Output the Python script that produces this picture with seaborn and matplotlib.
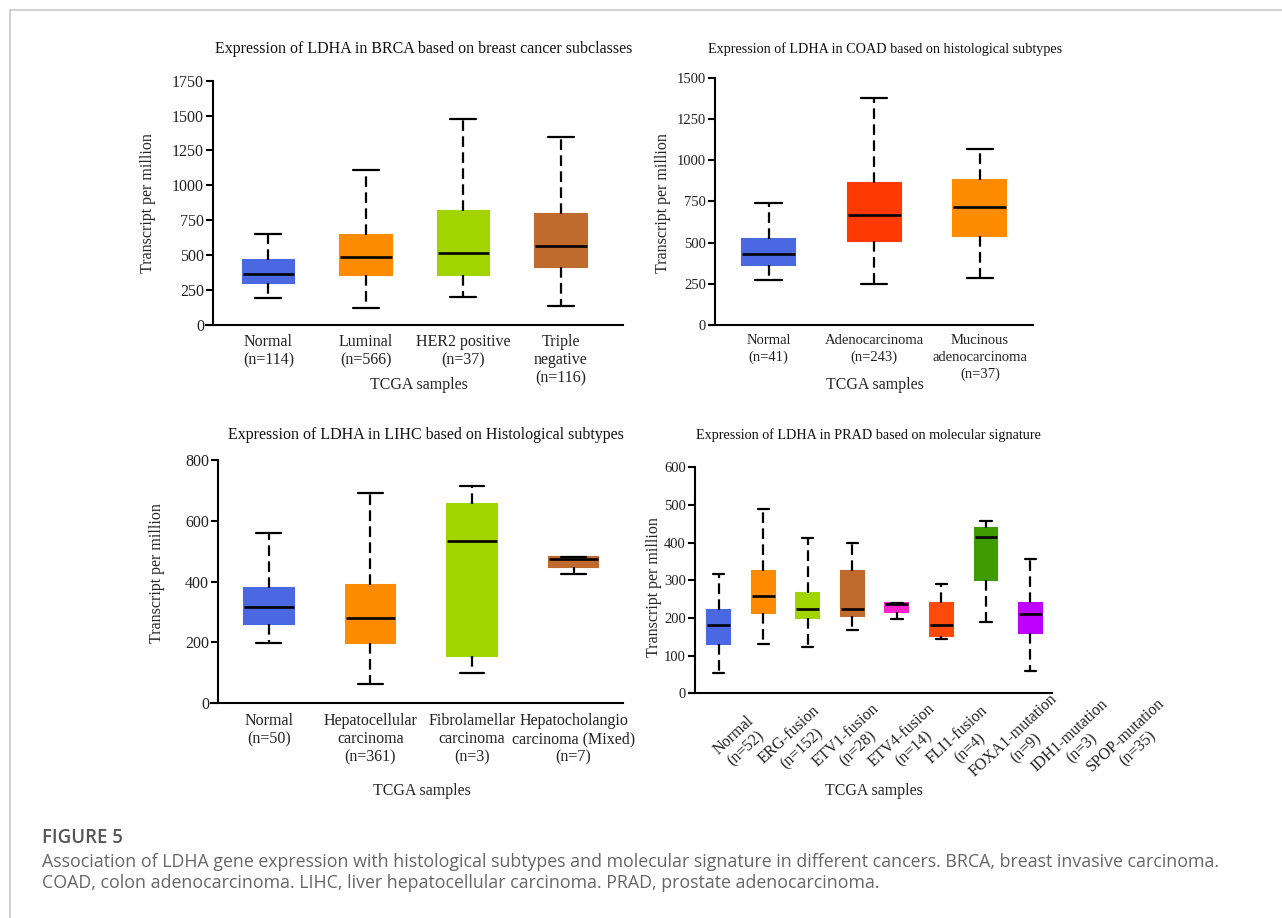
import pandas as pd
import matplotlib.pyplot as plt
import seaborn as sns
from matplotlib.lines import Line2D
from matplotlib.transforms import ScaledTranslation

# ---- data (min, Q1, median, Q3, max) ----
brca_labels = ["Normal\n(n=114)", "Luminal\n(n=566)", "HER2 positive\n(n=37)", "Triple\nnegative\n(n=116)"]
brca_low = [191, 119, 198, 134]
brca_q1 = [298, 356, 356, 413]
brca_med = [363, 490, 518, 568]
brca_q3 = [466, 642, 819, 795]
brca_high = [652, 1108, 1476, 1344]

coad_labels = ["Normal\n(n=41)", "Adenocarcinoma\n(n=243)", "Mucinous\nadenocarcinoma\n(n=37)"]
coad_low = [273, 249, 287]
coad_q1 = [362, 511, 538]
coad_med = [428, 667, 717]
coad_q3 = [519, 859, 877]
coad_high = [742, 1378, 1067]

lihc_labels = ["Normal\n(n=50)", "Hepatocellular\ncarcinoma\n(n=361)", "Fibrolamellar\ncarcinoma\n(n=3)",
               "Hepatocholangio\ncarcinoma (Mixed)\n(n=7)"]
lihc_low = [196, 64, 100, 426]
lihc_q1 = [259, 198, 155, 447]
lihc_med = [316, 280, 534, 475]
lihc_q3 = [380, 390, 654, 481]
lihc_high = [561, 692, 714, 482]

prad_labels = ["Normal\n(n=52)", "ERG-fusion\n(n=152)", "ETV1-fusion\n(n=28)", "ETV4-fusion\n(n=14)",
               "FLI1-fusion\n(n=4)", "FOXA1-mutation\n(n=9)", "IDH1-mutation\n(n=3)", "SPOP-mutation\n(n=35)"]
prad_low = [53, 132, 122, 167, 196, 145, 190, 58]
prad_q1 = [130, 213, 200, 204, 216, 152, 300, 161]
prad_med = [182, 257, 224, 224, 236, 181, 416, 210]
prad_q3 = [221, 324, 266, 324, 240, 241, 439, 240]
prad_high = [316, 488, 411, 399, 241, 291, 458, 357]

blue, orange, lime, brown = "#4A68E1", "#FF8C00", "#A2D500", "#C06B2D"
brca_colors = [blue, orange, lime, brown]
coad_colors = [blue, "#FF3A00", orange]
lihc_colors = [blue, orange, lime, brown]
prad_colors = [blue, orange, lime, brown, "#FF22CC", "#FF4A0A", "#3E9B00", "#BF00FF"]

sns.set_theme(style="ticks")
plt.rcParams["font.family"] = ["Liberation Serif", "DejaVu Serif"]
plt.rcParams["text.color"] = "#111111"

W, H = 1282, 918
fig = plt.figure(figsize=(W / 100, H / 100), dpi=100)


def long_frame(labels, low, q1, med, q3, high):
    rows = []
    for i, lab in enumerate(labels):
        for v in (low[i], q1[i], med[i], q3[i], high[i]):
            rows.append({"group": lab, "tpm": v})
    return pd.DataFrame(rows)


def panel(box, labels, stats, colors, ylim, yticks, xlim, width, title, title_xy,
          tick_fs, title_fs, inset, ylab_xy, xlab_xy, xpad, linesp=1.2):
    left, right, top, bottom = box
    ax = fig.add_axes([left / W, 1 - bottom / H, (right - left) / W, (bottom - top) / H])
    df = long_frame(labels, *stats)
    sns.boxplot(data=df, x="group", y="tpm", hue="group", order=labels, hue_order=labels,
                palette=colors, saturation=1, width=width, whis=(0, 100), linewidth=1.5,
                linecolor="black", showfliers=False, legend=False, ax=ax,
                whiskerprops=dict(linestyle=(0, (4.8, 2.4)), linewidth=1.6, color="black"),
                capprops=dict(linewidth=1.6, color="black"),
                medianprops=dict(linewidth=1.9, color="black"))
    for p in ax.patches:
        p.set_edgecolor(p.get_facecolor())
    ax.set_xticks(range(len(labels)), labels)
    ax.set_xlim(*xlim)
    ax.set_ylim(*ylim)
    ax.set_yticks(yticks)
    sns.despine(ax=ax)
    ax.spines["left"].set_position(("outward", -inset))
    for s in ("left", "bottom"):
        ax.spines[s].set_linewidth(1.5)
        ax.spines[s].set_color("black")
    ax.tick_params(axis="y", length=5, width=1.5, pad=1.5, labelsize=tick_fs, color="black",
                   labelcolor="#222222")
    ax.tick_params(axis="x", length=0, pad=xpad, labelsize=tick_fs, labelcolor="#222222")
    plt.setp(ax.get_xticklabels(), linespacing=linesp)
    ax.set_title(title, x=title_xy[0], y=title_xy[1], pad=0, va="center", fontsize=title_fs)
    ax.set_ylabel("Transcript per million", fontsize=11.5, va="center")
    ax.yaxis.set_label_coords(*ylab_xy)
    ax.set_xlabel("TCGA samples", fontsize=11.5, va="center")
    ax.xaxis.set_label_coords(*xlab_xy)
    return ax


panel((206, 623.3, 80.7, 325), brca_labels,
      (brca_low, brca_q1, brca_med, brca_q3, brca_high), brca_colors,
      (0, 1750), [0, 250, 500, 750, 1000, 1250, 1500, 1750], (-0.64, 3.64), 0.53,
      "Expression of LDHA in BRCA based on breast cancer subclasses", (0.522, 1.13),
      11.5, 11.5, 5, (-0.139, 0.499), (0.51, -0.246), 6.5)

panel((710, 1032.7, 77.7, 325), coad_labels,
      (coad_low, coad_q1, coad_med, coad_q3, coad_high), coad_colors,
      (0, 1500), [0, 250, 500, 750, 1000, 1250, 1500], (-0.555, 2.5), 0.5,
      "Expression of LDHA in COAD based on histological subtypes", (0.541, 1.116),
      10.5, 10.2, 3.6, (-0.147, 0.493), (0.511, -0.243), 6.5, linesp=1.35)

panel((211, 623.3, 460, 703), lihc_labels,
      (lihc_low, lihc_q1, lihc_med, lihc_q3, lihc_high), lihc_colors,
      (0, 800), [0, 200, 400, 600, 800], (-0.57, 3.49), 0.49,
      "Expression of LDHA in LIHC based on Histological subtypes", (0.521, 1.103),
      11.5, 11.5, 5, (-0.131, 0.535), (0.511, -0.362), 7)

ax4 = panel((689.3, 1052.3, 467.3, 693.3), prad_labels,
            (prad_low, prad_q1, prad_med, prad_q3, prad_high), prad_colors,
            (0, 600), [0, 100, 200, 300, 400, 500, 600], (-0.66, 7.49), 0.51,
            "Expression of LDHA in PRAD based on molecular signature", (0.494, 1.143),
            10.5, 10.2, 4, (-0.097, 0.472), (0.509, -0.432), 35)
# the slanted labels sit on a wider pitch than the boxes in the original: nudge each one right
for i, lbl in enumerate(ax4.get_xticklabels()):
    lbl.set(rotation=43, ha="center", va="center", rotation_mode="anchor",
            multialignment="center", fontsize=11.5, linespacing=1.2)
    shift = (21 + 11.5 * i) / 100
    lbl.set_transform(lbl.get_transform() + ScaledTranslation(shift, 0, fig.dpi_scale_trans))

# caption
cap_font = ["Open Sans", "DejaVu Sans"]
fig.text(41.7 / W, 1 - 838 / H, "FIGURE 5", family=cap_font, fontsize=13.4, fontweight="semibold",
         color="#555555", va="center")
fig.text(41.7 / W, 1 - 862 / H,
         "Association of LDHA gene expression with histological subtypes and molecular signature in different cancers. BRCA, breast invasive carcinoma.",
         family=cap_font, fontsize=12.8, color="#666666", va="center")
fig.text(41.7 / W, 1 - 883 / H,
         "COAD, colon adenocarcinoma. LIHC, liver hepatocellular carcinoma. PRAD, prostate adenocarcinoma.",
         family=cap_font, fontsize=12.8, color="#666666", va="center")

# thin page frame
fig.add_artist(Line2D([9.5 / W, 9.5 / W], [0, 1 - 9.5 / H], color="#c8c8c8", lw=1.2))
fig.add_artist(Line2D([9.5 / W, 1], [1 - 9.5 / H, 1 - 9.5 / H], color="#c8c8c8", lw=1.2))

fig.savefig("out.png", dpi=100)
